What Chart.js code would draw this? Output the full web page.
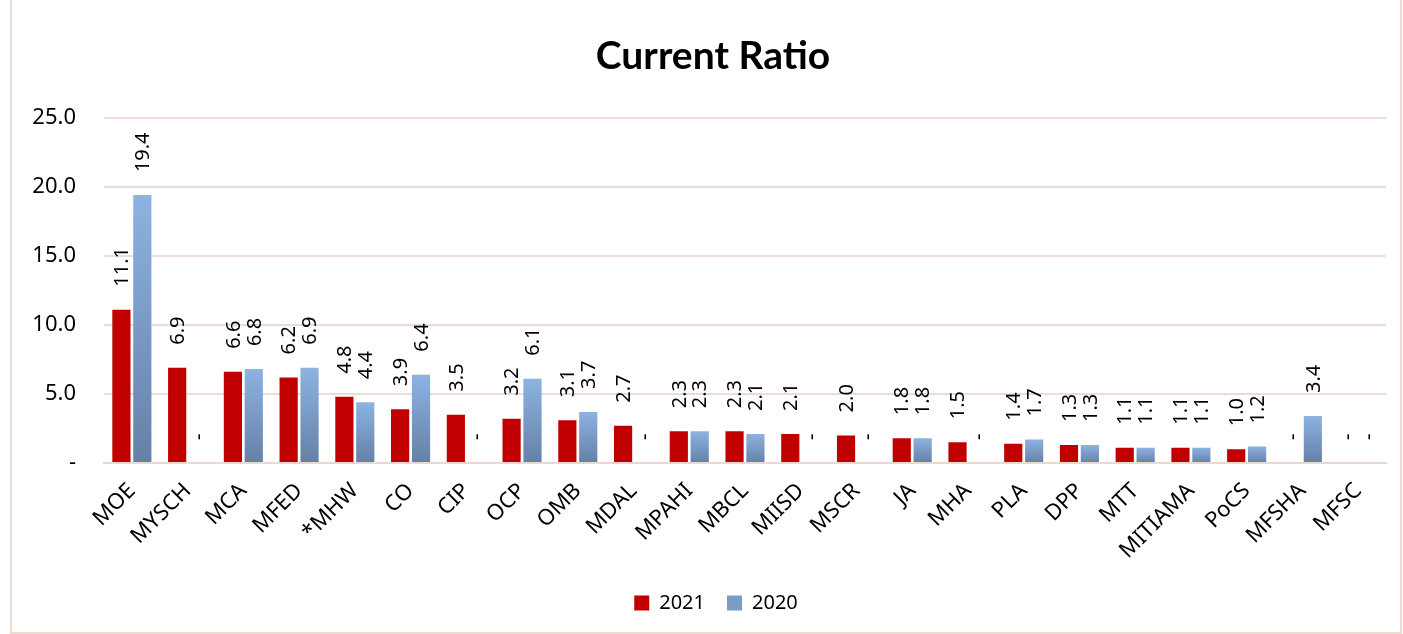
<!DOCTYPE html>
<html>
<head>
<meta charset="utf-8">
<script src="https://cdn.jsdelivr.net/npm/chart.js@4"></script>
<style>
  body { margin: 0; background: #fff; }
  #wrap {
    position: absolute; left: 10px; top: -2px;
    width: 1388px; height: 632px;
    border: 2px solid #eadcd3;
  }
</style>
</head>
<body>
<div id="wrap"><canvas id="myChart"></canvas></div>
<script>
// chart data
var categories = ['MOE', 'MYSCH', 'MCA', 'MFED', '*MHW', 'CO', 'CIP', 'OCP', 'OMB', 'MDAL', 'MPAHI',
    'MBCL', 'MIISD', 'MSCR', 'JA', 'MHA', 'PLA', 'DPP', 'MTT', 'MITIAMA', 'PoCS', 'MFSHA', 'MFSC'];
var values2021 = [11.1, 6.9, 6.6, 6.2, 4.8, 3.9, 3.5, 3.2, 3.1, 2.7, 2.3,
    2.3, 2.1, 2.0, 1.8, 1.5, 1.4, 1.3, 1.1, 1.1, 1.0, 0, 0];
var values2020 = [19.4, 0, 6.8, 6.9, 4.4, 6.4, 0, 6.1, 3.7, 0, 2.3,
    2.1, 0, 0, 1.8, 0, 1.7, 1.3, 1.1, 1.1, 1.2, 3.4, 0];
var yTicks = [0, 5, 10, 15, 20, 25];

var fontFamily = "'Noto Sans', 'DejaVu Sans', sans-serif";

// vertical gradient per bar, light on top, darker at the base
function blueFill(context) {
    var chart = context.chart;
    var y = chart.scales && chart.scales.y;
    if (context.type !== 'data' || !y || !chart.chartArea) return '#7c9bc7';
    var top = y.getPixelForValue(context.raw);
    var bottom = y.getPixelForValue(0);
    if (bottom - top < 1) return '#7c9bc7';
    var g = chart.ctx.createLinearGradient(0, top, 0, bottom);
    g.addColorStop(0, '#8db3e2');
    g.addColorStop(1, '#6580a6');
    return g;
}

// draws rotated value labels above the bars
var barLabels = {
    id: 'barLabels',
    afterDatasetsDraw: function (chart) {
        var ctx = chart.ctx;
        ctx.save();
        ctx.font = '20px ' + fontFamily;
        ctx.fillStyle = '#000';
        ctx.textAlign = 'left';
        ctx.textBaseline = 'middle';
        chart.data.datasets.forEach(function (ds, i) {
            var meta = chart.getDatasetMeta(i);
            meta.data.forEach(function (bar, j) {
                var v = ds.data[j];
                var txt = v === 0 ? '-' : v.toFixed(1);
                ctx.save();
                ctx.translate(bar.x + 1, bar.y - 23);
                ctx.rotate(-Math.PI / 2);
                ctx.fillText(txt, 0, 0);
                ctx.restore();
            });
        });
        ctx.restore();
    }
};

var ctx = document.getElementById('myChart').getContext('2d');
var chart = new Chart(ctx, {
    type: 'bar',
    data: {
        labels: categories,
        datasets: [{
            label: '2021',
            data: values2021,
            backgroundColor: '#c00000'
        }, {
            label: '2020',
            data: values2020,
            backgroundColor: blueFill
        }]
    },
    plugins: [barLabels],
    options: {
        responsive: true,
        maintainAspectRatio: false,
        animation: false,
        categoryPercentage: 0.75,
        barPercentage: 0.87,
        layout: { padding: { left: 0, right: 14, top: 20, bottom: 9 } },
        plugins: {
            title: {
                display: true,
                text: 'Current Ratio',
                color: '#000',
                font: { family: "Lato, 'Open Sans', sans-serif", size: 39, weight: 'bold' },
                padding: { top: 13, bottom: 38 }
            },
            legend: {
                position: 'bottom',
                labels: {
                    color: '#000',
                    font: { family: fontFamily, size: 20 },
                    boxWidth: 15,
                    boxHeight: 15,
                    padding: 22,
                    generateLabels: function (chart) {
                        return chart.data.datasets.map(function (ds, i) {
                            return {
                                text: ds.label,
                                fillStyle: i === 0 ? '#c00000' : '#7c9bc7',
                                strokeStyle: 'rgba(0,0,0,0)',
                                lineWidth: 0,
                                datasetIndex: i,
                                fontColor: '#000'
                            };
                        });
                    }
                }
            },
            tooltip: { enabled: false }
        },
        scales: {
            x: {
                grid: { display: false },
                border: { color: '#ead9d0', width: 2 },
                afterFit: function (axis) { axis.height = 108; },
                ticks: {
                    color: '#000',
                    padding: 7,
                    font: { family: fontFamily, size: 22 },
                    maxRotation: 45,
                    minRotation: 45,
                    autoSkip: false
                }
            },
            y: {
                min: 0,
                max: 25,
                afterBuildTicks: function (axis) {
                    axis.ticks = yTicks.map(function (v) { return { value: v }; });
                },
                afterFit: function (axis) { axis.width = 92; },
                grid: { color: '#ecdcd3', lineWidth: 2, drawTicks: false },
                border: { display: false },
                ticks: {
                    color: '#000',
                    padding: 28,
                    font: { family: fontFamily, size: 22 },
                    callback: function (v) { return v === 0 ? '-' : v.toFixed(1); }
                }
            }
        }
    }
});

// title and legend sit a little right of the canvas centre in the original
function nudge(box, dx) {
    var orig = box.draw;
    box.draw = function () {
        ctx.save();
        ctx.translate(dx, 0);
        orig.apply(this, arguments);
        ctx.restore();
    };
}
nudge(chart.titleBlock, 14);
nudge(chart.legend, 17);
chart.draw();
</script>
</body>
</html>
